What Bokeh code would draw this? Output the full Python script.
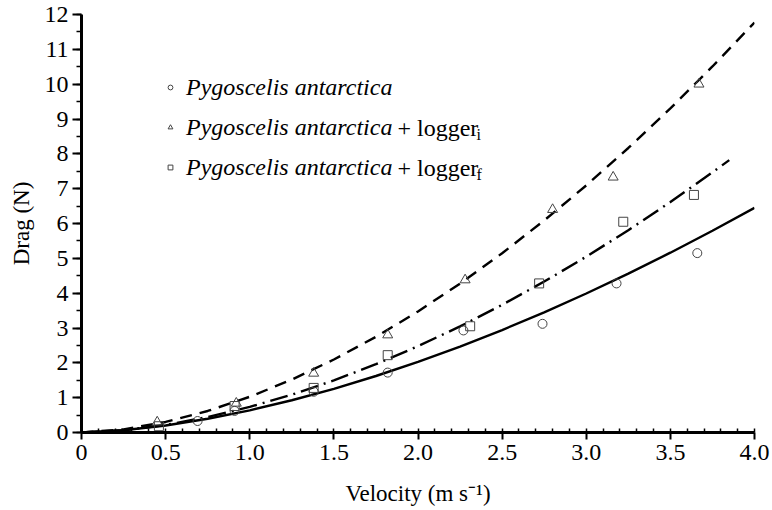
from bokeh.plotting import figure
from bokeh.models import (FixedTicker, CustomJSTickFormatter, Legend, LegendItem,
                          Label, Range1d)
from bokeh.embed import file_html
from bokeh.resources import INLINE

# ---- data ----
circle_v = [0.69, 0.91, 1.38, 1.82, 2.27, 2.74, 3.18, 3.66]
circle_d = [0.33, 0.62, 1.17, 1.72, 2.93, 3.12, 4.28, 5.15]

triangle_v = [0.45, 0.92, 1.38, 1.82, 2.28, 2.80, 3.16, 3.67]
triangle_d = [0.30, 0.84, 1.70, 2.80, 4.38, 6.40, 7.33, 10.00]

square_v = [0.46, 0.91, 1.38, 1.82, 2.31, 2.72, 3.22, 3.64]
square_d = [0.18, 0.76, 1.28, 2.22, 3.05, 4.28, 6.05, 6.82]

fit_v = [0, 0.25, 0.5, 0.75, 1.0, 1.25, 1.5, 1.75, 2.0, 2.25, 2.5, 2.75,
         3.0, 3.25, 3.5, 3.75, 4.0]
fit_plain = [0, 0.063, 0.200, 0.394, 0.637, 0.925, 1.254, 1.622, 2.027, 2.468,
             2.942, 3.450, 3.990, 4.560, 5.162, 5.792, 6.450]
fit_logger_i = [0, 0.089, 0.303, 0.618, 1.026, 1.519, 2.095, 2.747, 3.475, 4.275,
                5.146, 6.087, 7.093, 8.168, 9.305, 10.508, 11.770]
fit_f_v = [0, 0.25, 0.5, 0.75, 1.0, 1.25, 1.5, 1.75, 2.0, 2.25, 2.5, 2.75,
           3.0, 3.25, 3.5, 3.75, 3.85]
fit_logger_f = [0, 0.064, 0.217, 0.443, 0.734, 1.086, 1.495, 1.960, 2.477, 3.046,
                3.665, 4.333, 5.047, 5.809, 6.616, 7.468, 7.820]

x_ticks = [0, 0.5, 1.0, 1.5, 2.0, 2.5, 3.0, 3.5, 4.0]
y_ticks = list(range(0, 13))
legend_labels = ["Pygoscelis antarctica", "Pygoscelis antarctica",
                 "Pygoscelis antarctica"]

FONT = "'Liberation Serif'"

p = figure(width=772, height=510, output_backend="svg", toolbar_location=None,
           x_range=Range1d(0, 4.0), y_range=Range1d(0, 12),
           min_border_left=81, min_border_right=18, min_border_top=14,
           min_border_bottom=78)
p.outline_line_color = None
p.xgrid.visible = False
p.ygrid.visible = False
p.background_fill_color = "white"
p.border_fill_color = "white"

# fitted curves
p.line(fit_v, fit_plain, line_color="black", line_width=2.4)
p.line(fit_v, fit_logger_i, line_color="black", line_width=2.4, line_dash="12 8")
p.line(fit_f_v, fit_logger_f, line_color="black", line_width=2.4, line_dash="18 6 2 6")

# measured points
rc = p.scatter(circle_v, circle_d, marker="circle", size=9, fill_color=None,
               line_color="#444444", line_width=1)
rt = p.scatter(triangle_v, triangle_d, marker="triangle", size=10, fill_color=None,
               line_color="#444444", line_width=1)
rs = p.scatter(square_v, square_d, marker="square", size=9, fill_color=None,
               line_color="#444444", line_width=1)

# axes
for ax in p.xaxis + p.yaxis:
    ax.axis_line_width = 3
    ax.axis_line_color = "black"
    ax.major_tick_line_width = 2
    ax.minor_tick_line_width = 1.5
    ax.major_label_text_font = FONT
    ax.major_label_text_font_size = "24px"
    ax.major_label_text_color = "black"
    ax.axis_label_text_font = FONT
    ax.axis_label_text_font_size = "23px"
    ax.axis_label_text_font_style = "normal"
    ax.axis_label_text_color = "black"

p.xaxis.ticker = FixedTicker(ticks=x_ticks,
                             minor_ticks=[i / 10 for i in range(0, 41)])
p.xaxis.formatter = CustomJSTickFormatter(
    code="return tick == 0 ? '0' : tick.toFixed(1);")
p.xaxis.major_tick_out = 7
p.xaxis.major_tick_in = 0
p.xaxis.minor_tick_in = 4
p.xaxis.minor_tick_out = 0
p.xaxis.major_label_standoff = 5
p.xaxis.axis_label = "Velocity (m s\u207b\u00b9)"
p.xaxis.axis_label_standoff = 18

p.yaxis.ticker = FixedTicker(ticks=y_ticks,
                             minor_ticks=[i / 2 for i in range(0, 25)])
p.yaxis.major_tick_out = 9
p.yaxis.major_tick_in = 0
p.yaxis.minor_tick_out = 5
p.yaxis.minor_tick_in = 0
p.yaxis.major_label_standoff = 4
p.yaxis.axis_label = "Drag (N)"
p.yaxis.axis_label_standoff = 8

# legend
legend = Legend(items=[
    LegendItem(label=legend_labels[0], renderers=[rc]),
    LegendItem(label=legend_labels[1], renderers=[rt]),
    LegendItem(label=legend_labels[2], renderers=[rs]),
], location=(83, 251), label_text_font=FONT, label_text_font_style="italic",
    label_text_font_size="24px", label_text_color="black",
    glyph_width=12, glyph_height=28, label_height=28, spacing=12,
    padding=0, margin=0, border_line_color=None, background_fill_alpha=0,
    label_standoff=10)
p.add_layout(legend)

for ytxt, sub in ((305, "i"), (265, "f")):
    p.add_layout(Label(x=316, y=ytxt, x_units="screen", y_units="screen",
                       text="+ logger", text_font=FONT, text_font_size="24px",
                       text_color="black", text_baseline="middle"))
    p.add_layout(Label(x=395, y=ytxt - 7, x_units="screen", y_units="screen",
                       text=sub, text_font=FONT, text_font_size="16px",
                       text_color="black", text_baseline="middle"))

open("out.html", "w").write(file_html(p, INLINE))
